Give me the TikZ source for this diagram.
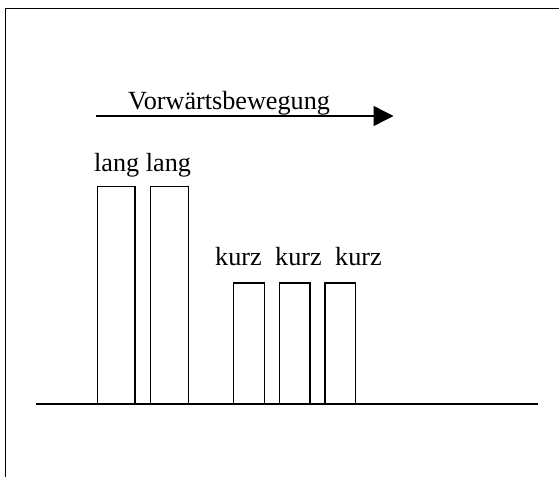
\documentclass[tikz,border=0pt]{standalone}
\usepackage{fontspec}
\setmainfont{Liberation Serif}
\usetikzlibrary{arrows.meta}
\begin{document}
\begin{tikzpicture}[x=1pt,y=-1pt,
  lbl/.style={inner sep=0pt,anchor=base west,font=\fontsize{26.2}{30}\selectfont},
  bar/.style={draw,line width=1.2pt,anchor=south west,inner sep=0pt,outer sep=0pt},
  frameline/.style={line width=1.6pt},
  ground/.style={line width=2.2pt},
  motion/.style={line width=1.4pt,-{Triangle[length=20pt,width=20pt]}}]
\useasboundingbox (0,0) rectangle (559,477);
% frame
\coordinate (fbl) at (5.5,477);
\coordinate (ftl) at (5.5,8.3);
\coordinate (ftr) at (559,8.3);
\draw[frameline] (fbl) -- (ftl) -- (ftr);
% ground
\coordinate (g1) at (36,403.7);
\coordinate (g2) at (538.3,403.7);
\draw[ground] (g1) -- (g2);
% arrow
\coordinate (a1) at (96,116);
\coordinate (a2) at (393.5,116);
\draw[motion] (a1) -- (a2);
\node[lbl] (mv) at (128,109.5) {Vorwärtsbewegung};
% bars
\node[bar,minimum width=37.7pt,minimum height=217pt] (l1) at (97.3,403.7) {};
\node[bar,minimum width=38.3pt,minimum height=217pt] (l2) at (150.2,403.7) {};
\node[bar,minimum width=31pt,minimum height=120.7pt] (k1) at (233.3,403.7) {};
\node[bar,minimum width=30.7pt,minimum height=120.7pt] (k2) at (279.3,403.7) {};
\node[bar,minimum width=30.7pt,minimum height=120.7pt] (k3) at (325,403.7) {};
% labels
\node[lbl] (tl) at (94,171.5) {lang lang};
\node[lbl] (t1) at (215,265) {kurz};
\node[lbl] (t2) at (275,265) {kurz};
\node[lbl] (t3) at (335,265) {kurz};
\end{tikzpicture}
\end{document}
